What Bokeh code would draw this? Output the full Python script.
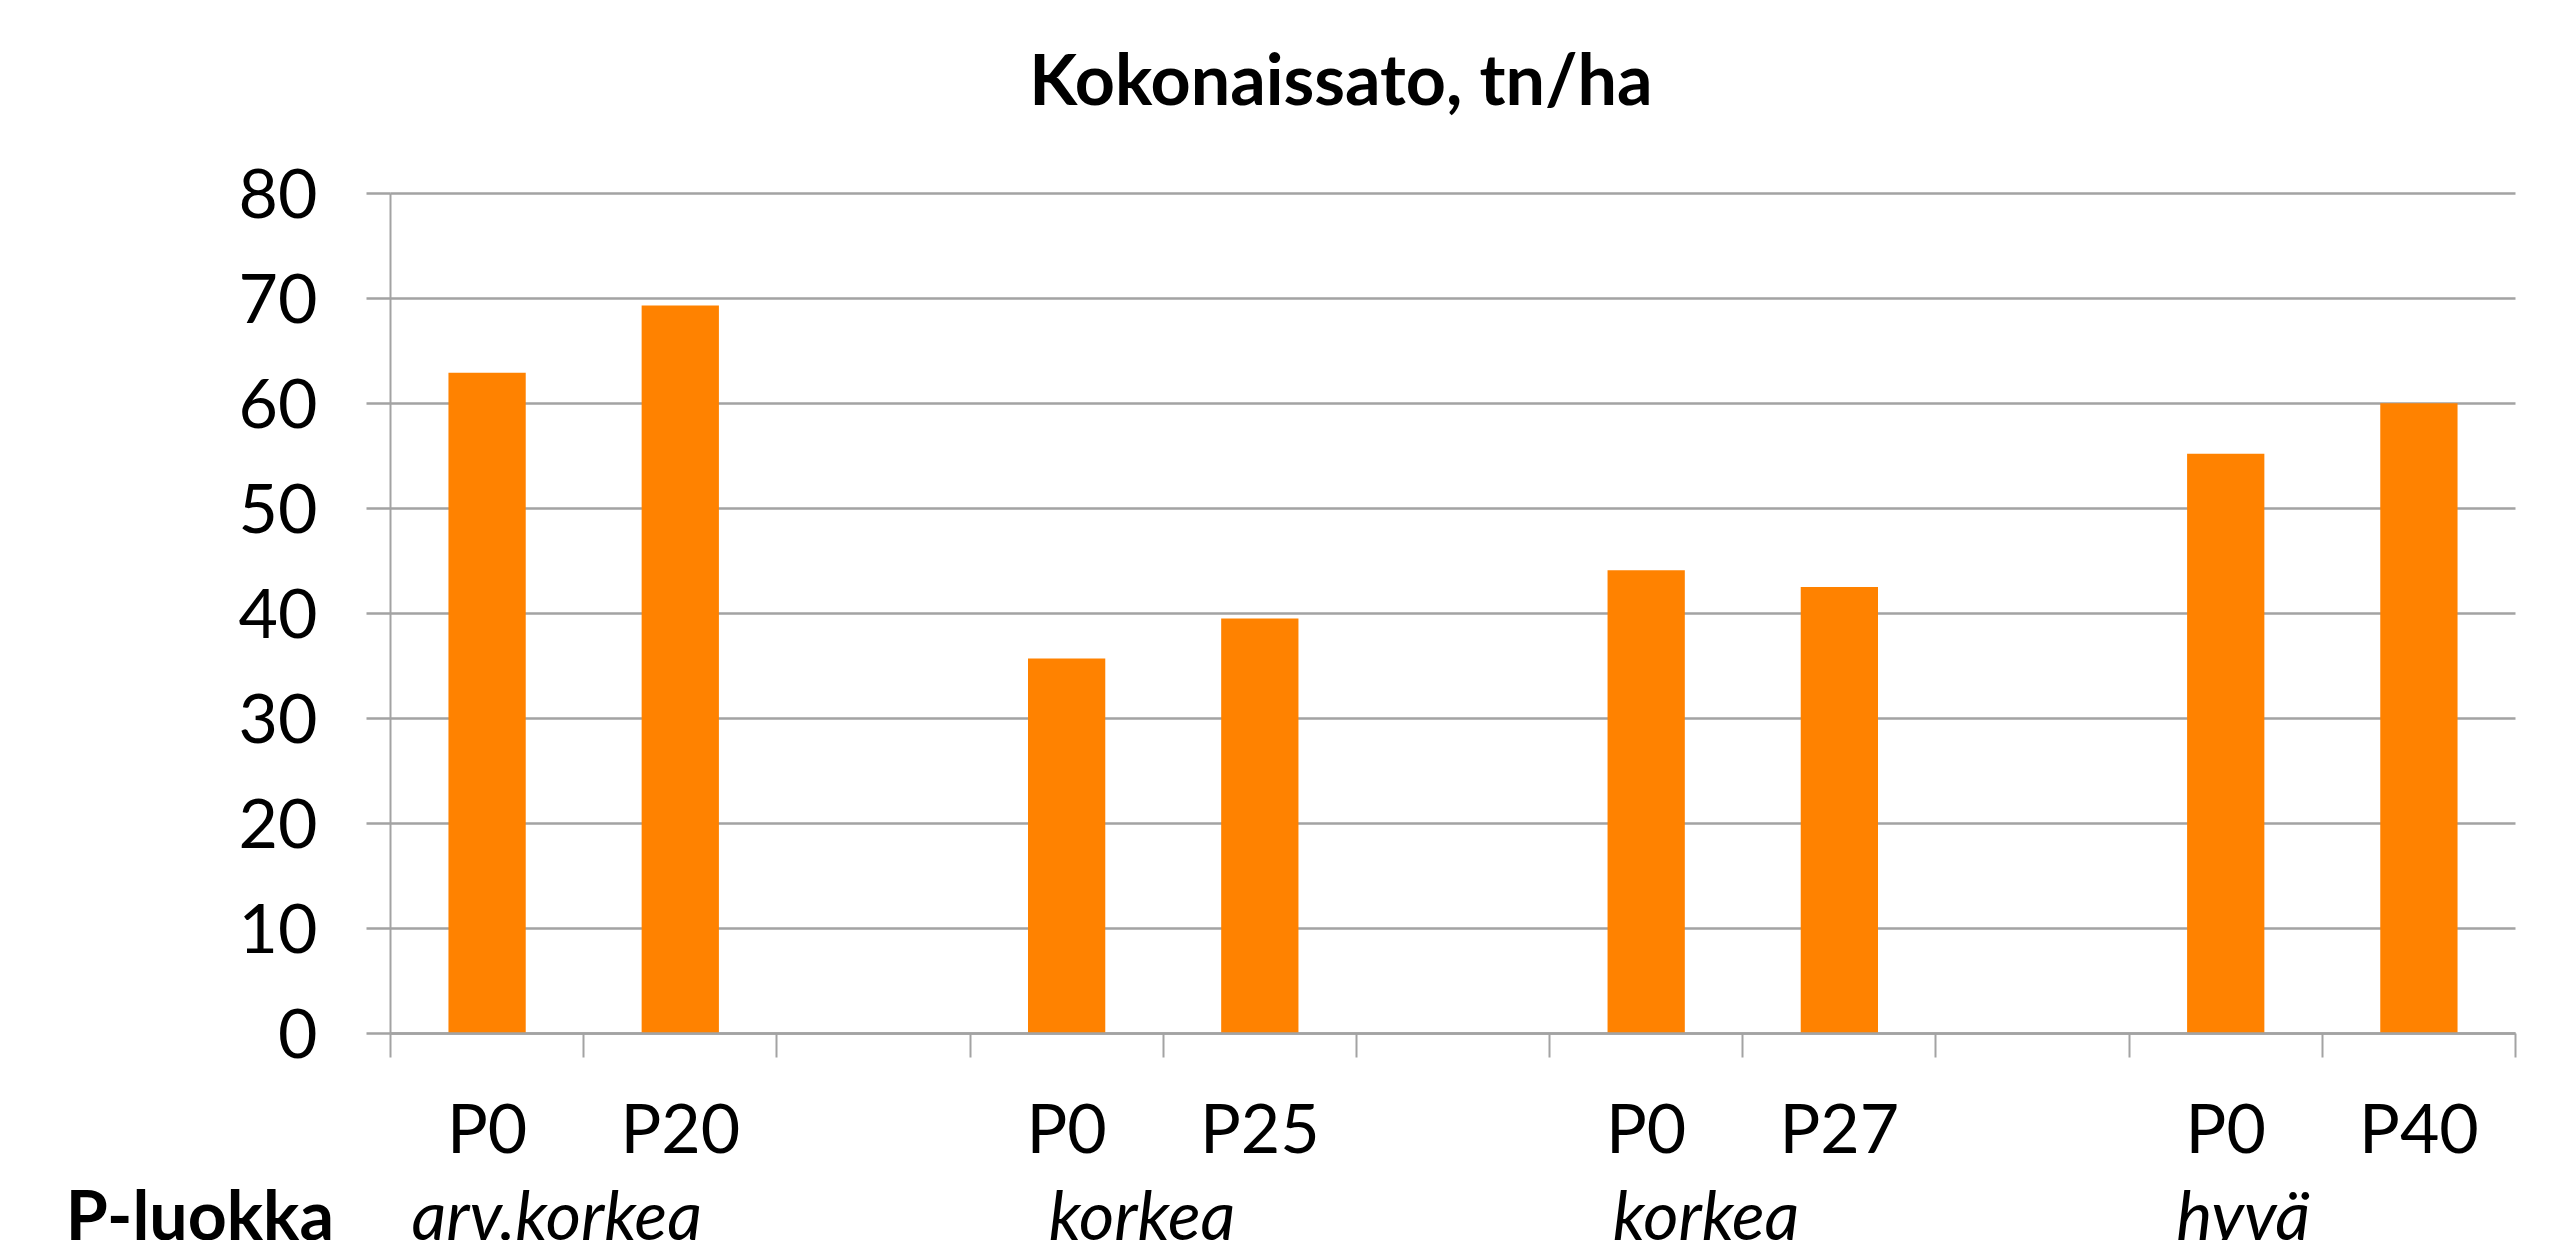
from bokeh.plotting import figure
from bokeh.models import Range1d, FixedTicker, Label
from bokeh.embed import file_html
from bokeh.resources import INLINE

# ---- data ----
title_text = "Kokonaissato, tn/ha"
categories = ["P0", "P20", "", "P0", "P25", "", "P0", "P27", "", "P0", "P40"]
values = [62.9, 69.3, None, 35.7, 39.5, None, 44.1, 42.5, None, 55.2, 60.0]
group_title = "P-luokka"
group_labels = ["arv.korkea", "korkea", "korkea", "hyvä"]
y_ticks = [0, 10, 20, 30, 40, 50, 60, 70, 80]

# ---- layout / style ----
FONT = "Lato"
FS = "68px"
BAR = "#FF8200"
GRID = "#A3A3A3"
W, H = 2551, 1240
X0_PX, X1_PX = 390.0, 2515.0      # pixel position of category axis start / end
Y0_PX, Y80_PX = 1033.0, 192.7      # pixel position of value 0 / 80

n = len(categories)
centers = [i + 0.5 for i in range(n)]
bx = [c for c, v in zip(centers, values) if v is not None]
bt = [v for v in values if v is not None]

ux = (X1_PX - X0_PX) / n
uy = (Y0_PX - Y80_PX) / 80.0
xr = Range1d(-X0_PX / ux, n + (W - X1_PX) / ux)
yr = Range1d(-(H - Y0_PX) / uy, 80 + Y80_PX / uy)

p = figure(width=W, height=H, x_range=xr, y_range=yr,
           output_backend="svg", toolbar_location=None,
           min_border_left=0, min_border_right=0, min_border_top=0, min_border_bottom=0)
p.outline_line_color = None
p.background_fill_color = "white"
p.border_fill_color = "white"

p.vbar(x=bx, top=bt, width=0.4, bottom=0, fill_color=BAR, line_color=None)

# y axis (drawn at x = 0)
p.yaxis.fixed_location = 0
p.yaxis.bounds = (0, 80)
p.yaxis.ticker = FixedTicker(ticks=y_ticks)
p.yaxis.axis_line_color = GRID
p.yaxis.axis_line_width = 2
p.yaxis.major_tick_out = 24
p.yaxis.major_tick_in = 0
p.yaxis.major_tick_line_color = GRID
p.yaxis.major_tick_line_width = 2.5
p.yaxis.minor_tick_line_color = None
p.yaxis.major_label_text_font = FONT
p.yaxis.major_label_text_font_size = FS
p.yaxis.major_label_text_color = "black"
p.yaxis.major_label_standoff = 49

p.ygrid.ticker = FixedTicker(ticks=y_ticks)
p.ygrid.grid_line_color = GRID
p.ygrid.grid_line_width = 2.5
p.ygrid.bounds = (0, 80)
if "cross_bounds" in p.ygrid[0].properties():
    p.ygrid.cross_bounds = (0, n)
p.xgrid.grid_line_color = None

# x axis (drawn at y = 0): labels at category centres, tick marks at boundaries
p.xaxis.fixed_location = 0
p.xaxis.bounds = (0, n)
p.xaxis.ticker = FixedTicker(ticks=centers, minor_ticks=list(range(n + 1)))
p.xaxis.major_label_overrides = {c: lab for c, lab in zip(centers, categories)}
p.xaxis.major_tick_out = 0
p.xaxis.major_tick_in = 0
p.xaxis.minor_tick_out = 24
p.xaxis.minor_tick_in = 0
p.xaxis.minor_tick_line_color = GRID
p.xaxis.minor_tick_line_width = 2
p.xaxis.axis_line_color = GRID
p.xaxis.axis_line_width = 2.5
p.xaxis.major_label_text_font = FONT
p.xaxis.major_label_text_font_size = FS
p.xaxis.major_label_text_color = "black"
p.xaxis.major_label_standoff = 28

# title
p.add_layout(Label(x=4.92, y=90.95, text=title_text, text_font=FONT, text_font_size="70px",
                   text_font_style="bold", text_align="center", text_baseline="alphabetic",
                   text_color="black"))

# group row
row_y = -17.15
p.add_layout(Label(x=-0.987, y=row_y, text=group_title, text_font=FONT, text_font_size=FS,
                   text_font_style="bold", text_align="center", text_baseline="alphabetic",
                   text_color="black"))
group_x = [0.86, 3.89, 6.81, 9.59]
for gx, g in zip(group_x, group_labels):
    p.add_layout(Label(x=gx, y=row_y, text=g, text_font=FONT, text_font_size=FS,
                       text_font_style="italic", text_align="center", text_baseline="alphabetic",
                       text_color="black"))

open("out.html", "w").write(file_html(p, INLINE))
